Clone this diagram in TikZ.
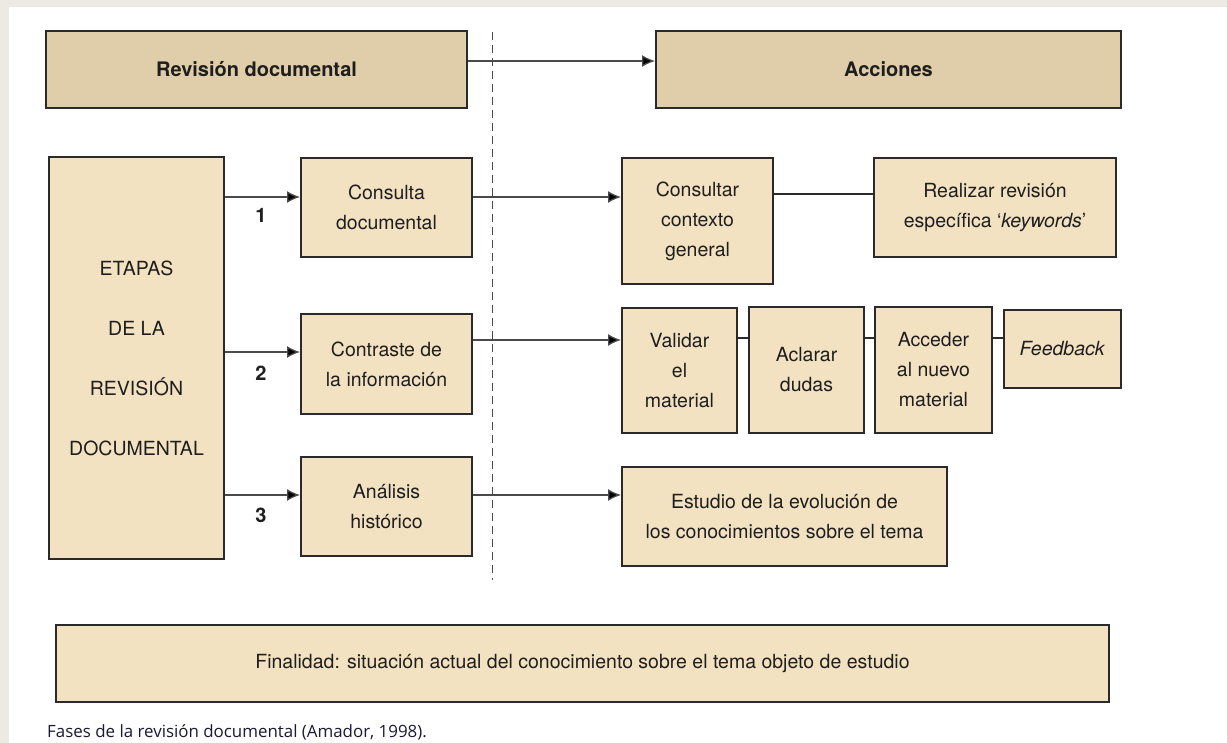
\documentclass[tikz,border=0pt]{standalone}
\usepackage{fontspec}
\setmainfont{TeX Gyre Heros}
\newfontfamily\capfont{Open Sans}
\usetikzlibrary{arrows.meta}
\definecolor{bgpage}{HTML}{EDEAE3}
\definecolor{tandark}{HTML}{E0CDAA}
\definecolor{tanlight}{HTML}{F3E2C2}
\definecolor{edge}{HTML}{2A2A2A}
\definecolor{linegray}{HTML}{4A4A4A}
\definecolor{txt}{HTML}{1E1E1E}
\definecolor{captxt}{HTML}{1A1A36}
\tikzset{
  box/.style={draw=edge, line width=2pt, fill=tanlight, align=center, inner sep=0pt,
    text=txt, font=\fontsize{19.5}{30}\selectfont},
  titlebox/.style={box, fill=tandark, font=\fontsize{20}{24}\selectfont\bfseries},
  arr/.style={draw=linegray, line width=1.3pt, -{Latex[length=13pt,width=12pt,fill=black]}},
  link/.style={draw=edge, line width=1.5pt},
  numlbl/.style={font=\fontsize{20}{24}\selectfont\bfseries, text=txt, inner sep=0pt},
  sep/.style={draw=linegray, line width=1pt, dash pattern=on 8pt off 5pt}
}
\begin{document}
\begin{tikzpicture}[x=1pt,y=-1pt]
\fill[bgpage] (0,0) rectangle (1227,743);
\fill[white] (9,7) rectangle (1227,743);
\useasboundingbox (0,0) rectangle (1227,743);

% title boxes
\node[titlebox, minimum width=421pt, minimum height=77pt] (rev) at (256.5,69.5) {Revisión documental};
\node[titlebox, minimum width=465pt, minimum height=77pt] (acc) at (888.5,69.5) {Acciones};

% dashed separator
\coordinate (septop) at (492,32);
\coordinate (sepbot) at (492,580);
\draw[sep] (septop) -- (sepbot);

% left big box
\node[box, minimum width=175pt, minimum height=402pt, font=\fontsize{19.5}{60}\selectfont] (etapas) at (136.5,358)
  {ETAPAS\\DE LA\\REVISIÓN\\DOCUMENTAL};

% stage boxes
\node[box, minimum width=171pt, minimum height=99pt] (cons) at (386.5,207.5) {Consulta\\documental};
\node[box, minimum width=171pt, minimum height=100pt] (cont) at (386.5,364) {Contraste de\\la información};
\node[box, minimum width=171pt, minimum height=99pt] (anal) at (386.5,506.5) {Análisis\\histórico};

% action boxes
\node[box, minimum width=151pt, minimum height=126pt] (ctx) at (697.5,221) {Consultar\\contexto\\general};
\node[box, minimum width=242pt, minimum height=99pt] (real) at (995,207.5) {Realizar revisión\\específica `\textit{keywords}'};
\node[box, minimum width=115pt, minimum height=125pt] (val) at (679.5,370.5) {Validar\\el\\material};
\node[box, minimum width=115pt, minimum height=126pt] (acl) at (806.5,370) {Aclarar\\dudas};
\node[box, minimum width=117pt, minimum height=126pt] (acd) at (933.5,370) {Acceder\\al nuevo\\material};
\node[box, minimum width=117pt, minimum height=78pt] (fb) at (1062.5,349) {\textit{Feedback}};
\node[box, minimum width=325pt, minimum height=99pt] (est) at (784.5,516.5) {Estudio de la evolución de\\los conocimientos sobre el tema};

% final box
\node[box, minimum width=1053pt, minimum height=77pt] (fin) at (582.5,663.5)
  {Finalidad: situación actual del conocimiento sobre el tema objeto de estudio};

% connectors
\draw[arr] ([yshift=8.5pt]rev.east) -- ([yshift=8.5pt]rev.east -| acc.west);
\draw[arr] ([yshift=10.5pt]cons.west -| etapas.east) -- ([yshift=10.5pt]cons.west);
\draw[arr] ([yshift=12pt]cont.west -| etapas.east) -- ([yshift=12pt]cont.west);
\draw[arr] ([yshift=11.5pt]anal.west -| etapas.east) -- ([yshift=11.5pt]anal.west);
\draw[arr] ([yshift=10.5pt]cons.east) -- ([yshift=10.5pt]cons.east -| ctx.west);
\draw[arr] ([yshift=24pt]cont.east) -- ([yshift=24pt]cont.east -| val.west);
\draw[arr] ([yshift=11.5pt]anal.east) -- ([yshift=11.5pt]anal.east -| est.west);
\draw[link] ([yshift=27pt]ctx.east) -- ([yshift=27pt]ctx.east -| real.west);
\draw[link] ([yshift=32.5pt]val.east) -- ([yshift=32.5pt]val.east -| acl.west);
\draw[link] ([yshift=32pt]acl.east) -- ([yshift=32pt]acl.east -| acd.west);
\draw[link] ([yshift=32pt]acd.east) -- ([yshift=32pt]acd.east -| fb.west);

% stage numbers
\node[numlbl] (n1) at (261,215) {1};
\node[numlbl] (n2) at (261,373) {2};
\node[numlbl] (n3) at (261,515) {3};

% caption
\node[anchor=west, inner sep=0pt, text=captxt, font=\capfont\fontsize{16.9}{18}\selectfont] (cap) at (47,732)
  {Fases de la revisión documental (Amador, 1998).};
\end{tikzpicture}
\end{document}
